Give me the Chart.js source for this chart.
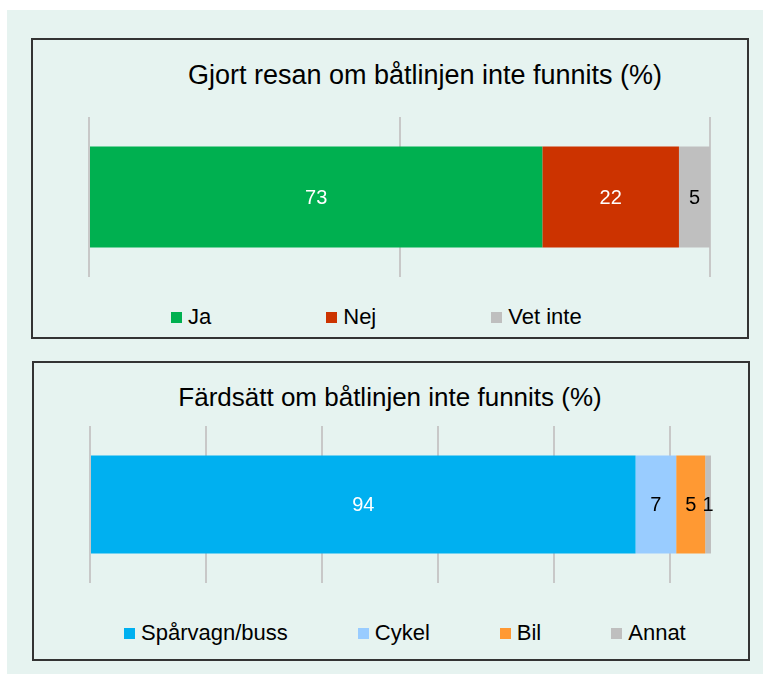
<!DOCTYPE html>
<html>
<head>
<meta charset="utf-8">
<script src="https://cdn.jsdelivr.net/npm/chart.js@4.4.0/dist/chart.umd.min.js"></script>
<style>
body { margin: 0; background: #fff; font-family: "Liberation Sans", Arial, sans-serif; overflow: hidden; }
#bg { position: absolute; left: 7px; top: 10px; width: 756px; height: 664px; background: #e6f3f0; }
.panel { position: absolute; box-sizing: border-box; border: 2px solid #333; }
.title { position: absolute; font-size: 26px; line-height: 26px; white-space: nowrap; color: #000; transform: translateX(-50%); }
.legend { position: absolute; display: flex; align-items: center; font-size: 22px; line-height: 22px; white-space: nowrap; color: #000; }
.legend .item { display: flex; align-items: center; }
.legend i { display: inline-block; width: 11px; height: 11px; margin-right: 6px; }
canvas { position: absolute; }
</style>
</head>
<body>
<div id="bg"></div>
<div class="panel" style="left:31px;top:38px;width:718px;height:301px"></div>
<div class="panel" style="left:32px;top:361px;width:718px;height:300px"></div>

<div class="title" style="left:425px;top:62px;font-size:27px;line-height:27px">Gjort resan om båtlinjen inte funnits (%)</div>
<canvas id="tripChart" width="641" height="180" style="left:79px;top:107px"></canvas>
<div class="legend" id="tripLegend" style="left:171px;top:306px;gap:115px"></div>

<div class="title" style="left:390px;top:384px">Färdsätt om båtlinjen inte funnits (%)</div>
<canvas id="modeChart" width="641" height="177" style="left:80px;top:416px"></canvas>
<div class="legend" id="modeLegend" style="left:124px;top:622px;gap:70px"></div>

<script>
// chart 1: would the trip have been made without the boat line
const tripCategories = ["Ja", "Nej", "Vet inte"];
const tripValues = [73, 22, 5];
const tripColors = ["#00b050", "#cc3300", "#bfbfbf"];
const tripLabelColors = ["#fff", "#fff", "#000"];
const tripMax = 100;
const tripStep = 50;

// chart 2: mode of travel without the boat line
const modeCategories = ["Spårvagn/buss", "Cykel", "Bil", "Annat"];
const modeValues = [94, 7, 5, 1];
const modeColors = ["#00b0f0", "#99ccff", "#ff9933", "#bfbfbf"];
const modeLabelColors = ["#fff", "#000", "#000", "#000"];
const modeMax = 107;
const modeStep = 20;

// writes the value in the middle of each bar segment
const barLabels = {
    id: "barLabels",
    afterDatasetsDraw(chart, args, opts) {
        const ctx = chart.ctx;
        ctx.save();
        ctx.font = '20px "Liberation Sans", Arial, sans-serif';
        ctx.textAlign = "center";
        ctx.textBaseline = "middle";
        chart.data.datasets.forEach((ds, i) => {
            const bar = chart.getDatasetMeta(i).data[0];
            ctx.fillStyle = opts.colors[i];
            ctx.fillText(ds.data[0], (bar.x + bar.base) / 2, bar.y + 1);
        });
        ctx.restore();
    }
};

function makeChart(id, categories, values, colors, labelColors, max, step, barPct) {
    const datasets = categories.map((name, i) => {
        return {
            label: name,
            data: [values[i]],
            backgroundColor: colors[i],
            borderWidth: 0,
            categoryPercentage: 1,
            barPercentage: barPct,
        };
    });
    return new Chart(document.getElementById(id).getContext("2d"), {
        type: "bar",
        data: { labels: [""], datasets: datasets },
        options: {
            indexAxis: "y",
            responsive: false,
            animation: false,
            devicePixelRatio: 1,
            layout: { padding: 10 },
            scales: {
                x: {
                    stacked: true,
                    min: 0,
                    max: max,
                    ticks: { display: false, stepSize: step, includeBounds: false },
                    grid: { color: "#c8c8c8", lineWidth: 2, drawTicks: false },
                    border: { display: false },
                },
                y: { stacked: true, display: false },
            },
            plugins: {
                legend: { display: false },
                tooltip: { enabled: false },
                barLabels: { colors: labelColors },
            },
        },
        plugins: [barLabels],
    });
}

function makeLegend(id, categories, colors) {
    const box = document.getElementById(id);
    categories.forEach((name, i) => {
        box.insertAdjacentHTML("beforeend",
            `<span class="item"><i style="background:${colors[i]}"></i>${name}</span>`);
    });
}

makeChart("tripChart", tripCategories, tripValues, tripColors, tripLabelColors, tripMax, tripStep, 0.63);
makeChart("modeChart", modeCategories, modeValues, modeColors, modeLabelColors, modeMax, modeStep, 0.624);
makeLegend("tripLegend", tripCategories, tripColors);
makeLegend("modeLegend", modeCategories, modeColors);
</script>
</body>
</html>
